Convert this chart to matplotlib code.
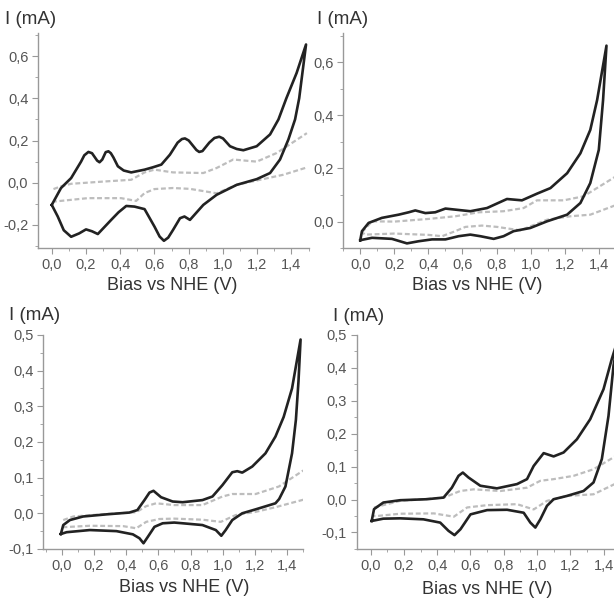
import numpy as np
import matplotlib
matplotlib.use("Agg")
import matplotlib.pyplot as plt
from matplotlib.ticker import MultipleLocator, FuncFormatter

plt.rcParams['font.family'] = ['Liberation Sans', 'DejaVu Sans']

# ---- data: solid loop = forward scan then reverse scan (V, mA) ----
# panel 1 (top left)
p1_solid_v = [0.0, 0.054, 0.113, 0.171, 0.19, 0.214, 0.235, 0.265, 0.279, 0.295, 0.315, 0.331, 0.345, 0.36,
              0.386, 0.42, 0.464, 0.542, 0.59, 0.64, 0.69, 0.735, 0.76, 0.778, 0.80, 0.82, 0.845, 0.861,
              0.88, 0.92, 0.95, 0.978, 1.0, 1.041, 1.08, 1.119, 1.197, 1.275, 1.324, 1.37, 1.43, 1.485,
              1.445, 1.421, 1.382, 1.333, 1.275, 1.197, 1.08, 0.963, 0.885, 0.807, 0.775, 0.749,
              0.708, 0.68, 0.655, 0.63, 0.6, 0.542, 0.483, 0.435, 0.39, 0.347, 0.269, 0.235, 0.2, 0.16,
              0.113, 0.07, 0.035, 0.0]
p1_solid_i = [-0.105, -0.025, 0.022, 0.10, 0.13, 0.146, 0.14, 0.105, 0.097, 0.11, 0.145, 0.149, 0.14, 0.12,
              0.078, 0.058, 0.049, 0.062, 0.073, 0.086, 0.133, 0.19, 0.207, 0.21, 0.2, 0.18, 0.155, 0.146,
              0.15, 0.19, 0.212, 0.218, 0.21, 0.173, 0.16, 0.154, 0.173, 0.229, 0.3, 0.4, 0.52, 0.655,
              0.4, 0.3, 0.205, 0.11, 0.046, 0.017, -0.01, -0.057, -0.105, -0.176, -0.16, -0.168,
              -0.224, -0.26, -0.275, -0.255, -0.208, -0.125, -0.113, -0.11, -0.14, -0.176, -0.243, -0.23,
              -0.221, -0.24, -0.256, -0.225, -0.16, -0.105]
p1_dash_fwd_v = [0.01, 0.054, 0.113, 0.308, 0.464, 0.542, 0.6, 0.708, 0.885, 0.963, 1.06, 1.197, 1.314, 1.49]
p1_dash_fwd_i = [-0.03, -0.017, -0.005, 0.006, 0.014, 0.049, 0.062, 0.049, 0.046, 0.07, 0.11, 0.10, 0.141, 0.235]
p1_dash_rev_v = [1.48, 1.353, 1.216, 1.08, 0.963, 0.807, 0.708, 0.6, 0.542, 0.493, 0.405, 0.21, 0.016]
p1_dash_rev_i = [0.07, 0.038, 0.014, -0.01, -0.05, -0.029, -0.025, -0.03, -0.049, -0.086, -0.073, -0.073, -0.089]

# panel 2 (top right)
p2_solid_v = [0.0, 0.01, 0.049, 0.127, 0.225, 0.284, 0.323, 0.382, 0.44, 0.5, 0.558, 0.646, 0.744,
              0.861, 0.949, 1.037, 1.116, 1.214, 1.292, 1.35, 1.39, 1.445,
              1.425, 1.4, 1.35, 1.292, 1.214, 1.096, 0.998, 0.9, 0.841, 0.783, 0.705, 0.646,
              0.577, 0.5, 0.421, 0.342, 0.274, 0.186, 0.069, 0.0]
p2_solid_i = [-0.07, -0.036, -0.005, 0.014, 0.026, 0.035, 0.042, 0.032, 0.035, 0.049, 0.045, 0.039, 0.051,
              0.085, 0.08, 0.105, 0.126, 0.182, 0.257, 0.345, 0.457, 0.662,
              0.457, 0.27, 0.145, 0.07, 0.026, 0.001, -0.024, -0.036, -0.055, -0.065, -0.055, -0.049,
              -0.055, -0.067, -0.067, -0.074, -0.082, -0.065, -0.061, -0.07]
p2_dash_fwd_v = [0.01, 0.069, 0.2, 0.4, 0.558, 0.695, 0.841, 0.959, 1.037, 1.194, 1.31, 1.5]
p2_dash_fwd_i = [-0.04, 0.001, 0.0, 0.01, 0.02, 0.035, 0.039, 0.051, 0.08, 0.08, 0.095, 0.17]
p2_dash_rev_v = [1.5, 1.35, 1.233, 1.096, 0.94, 0.803, 0.714, 0.617, 0.558, 0.48, 0.4, 0.2, 0.029, 0.01]
p2_dash_rev_i = [0.062, 0.026, 0.02, 0.007, -0.033, -0.02, -0.015, -0.02, -0.036, -0.055, -0.05, -0.045, -0.049, -0.04]

# panel 3 (bottom left)
p3_solid_v = [-0.005, 0.01, 0.051, 0.133, 0.278, 0.42, 0.47, 0.514, 0.545, 0.57, 0.617, 0.689, 0.751,
              0.874, 0.936, 0.998, 1.059, 1.09, 1.121, 1.183, 1.265, 1.327, 1.378, 1.43, 1.483,
              1.47, 1.454, 1.43, 1.389, 1.35, 1.327, 1.204, 1.121, 1.059, 1.018, 0.991, 0.957,
              0.874, 0.751, 0.699, 0.627, 0.576, 0.535, 0.508, 0.483, 0.442, 0.34, 0.175, 0.031, -0.005]
p3_solid_i = [-0.058, -0.033, -0.019, -0.009, -0.003, 0.002, 0.009, 0.037, 0.058, 0.063, 0.045, 0.033, 0.031,
              0.037, 0.047, 0.079, 0.115, 0.118, 0.114, 0.131, 0.168, 0.215, 0.27, 0.35, 0.487,
              0.37, 0.262, 0.168, 0.075, 0.04, 0.028, 0.011, 0.0, -0.019, -0.047, -0.063, -0.047,
              -0.033, -0.028, -0.026, -0.028, -0.038, -0.066, -0.084, -0.07, -0.059, -0.05, -0.047, -0.053, -0.058]
p3_dash_fwd_v = [0.01, 0.072, 0.278, 0.463, 0.525, 0.586, 0.699, 0.874, 0.998, 1.059, 1.204, 1.348, 1.5]
p3_dash_fwd_i = [-0.019, -0.009, -0.002, 0.003, 0.02, 0.028, 0.023, 0.023, 0.047, 0.054, 0.054, 0.075, 0.12]
p3_dash_rev_v = [1.5, 1.327, 1.204, 1.08, 0.988, 0.874, 0.699, 0.607, 0.525, 0.463, 0.381, 0.175, 0.01]
p3_dash_rev_i = [0.038, 0.017, 0.004, -0.005, -0.024, -0.018, -0.015, -0.016, -0.024, -0.042, -0.036, -0.035, -0.039]

# panel 4 (bottom right)
p4_solid_v = [0.006, 0.02, 0.076, 0.177, 0.337, 0.438, 0.488, 0.528, 0.554, 0.588, 0.659, 0.759, 0.88,
              0.94, 0.98, 1.04, 1.1, 1.16, 1.24, 1.32, 1.4, 1.45, 1.49,
              1.46, 1.43, 1.39, 1.34, 1.28, 1.18, 1.1, 1.06, 1.02, 0.99, 0.96, 0.92, 0.82, 0.70,
              0.6, 0.54, 0.504, 0.468, 0.418, 0.317, 0.177, 0.076, 0.006]
p4_solid_i = [-0.065, -0.029, -0.009, -0.002, 0.001, 0.006, 0.036, 0.072, 0.082, 0.067, 0.042, 0.034, 0.047,
              0.062, 0.102, 0.141, 0.131, 0.143, 0.183, 0.244, 0.335, 0.427, 0.492,
              0.406, 0.254, 0.123, 0.052, 0.026, 0.011, 0.001, -0.019, -0.06, -0.085, -0.07, -0.04, -0.031, -0.032,
              -0.045, -0.09, -0.108, -0.095, -0.07, -0.06, -0.057, -0.058, -0.065]
p4_dash_fwd_v = [0.02, 0.177, 0.44, 0.538, 0.618, 0.78, 0.94, 1.02, 1.1, 1.22, 1.34, 1.5]
p4_dash_fwd_i = [-0.024, -0.004, 0.006, 0.026, 0.031, 0.026, 0.036, 0.057, 0.062, 0.072, 0.092, 0.14]
p4_dash_rev_v = [1.5, 1.34, 1.18, 1.06, 0.98, 0.88, 0.7, 0.58, 0.5, 0.38, 0.177, 0.036, 0.02]
p4_dash_rev_i = [0.055, 0.016, 0.011, -0.004, -0.03, -0.014, -0.017, -0.024, -0.052, -0.042, -0.043, -0.05, -0.05]

# axes rects (figure fraction), limits and tick steps
panels = [
    ([0.062, 0.585, 0.4406, 0.360], (-0.08, 1.5), (-0.31, 0.71), 0.2, -0.2, 0.6,
     (p1_solid_v, p1_solid_i), [(p1_dash_fwd_v, p1_dash_fwd_i), (p1_dash_rev_v, p1_dash_rev_i)],
     (0.008, 0.967), (0.281, 0.523)),
    ([0.559, 0.585, 0.444, 0.360], (-0.1, 1.5), (-0.1, 0.71), 0.2, 0.0, 0.6,
     (p2_solid_v, p2_solid_i), [(p2_dash_fwd_v, p2_dash_fwd_i), (p2_dash_rev_v, p2_dash_rev_i)],
     (0.516, 0.967), (0.777, 0.523)),
    ([0.0705, 0.082, 0.4235, 0.358], (-0.114, 1.5), (-0.1, 0.5), 0.1, -0.1, 0.5,
     (p3_solid_v, p3_solid_i), [(p3_dash_fwd_v, p3_dash_fwd_i), (p3_dash_rev_v, p3_dash_rev_i)],
     (0.015, 0.473), (0.300, 0.018)),
    ([0.581, 0.082, 0.429, 0.358], (-0.084, 1.5), (-0.15, 0.5), 0.1, -0.1, 0.5,
     (p4_solid_v, p4_solid_i), [(p4_dash_fwd_v, p4_dash_fwd_i), (p4_dash_rev_v, p4_dash_rev_i)],
     (0.543, 0.470), (0.793, 0.015)),
]

comma = FuncFormatter(lambda v, p: ("%.1f" % v).replace(".", ","))

fig = plt.figure(figsize=(6.14, 5.98), dpi=100)
for rect, xl, yl, ystep, ylo, yhi, solid, dashes, ylab_pos, xlab_pos in panels:
    ax = fig.add_axes(rect)
    for dv, di in dashes:
        ax.plot(dv, di, color='#bdbdbd', lw=1.6, ls=(0, (2.2, 1.2)))
    ax.plot(solid[0], solid[1], color='#222222', lw=1.9, solid_joinstyle='round')
    ax.set_xlim(*xl)
    ax.set_ylim(*yl)
    ax.set_xticks(np.arange(0, 1.41, 0.2))
    ax.xaxis.set_minor_locator(MultipleLocator(0.1))
    ax.set_yticks(np.arange(ylo, yhi + 0.001, ystep))
    ax.yaxis.set_minor_locator(MultipleLocator(ystep / 2))
    ax.xaxis.set_major_formatter(comma)
    ax.yaxis.set_major_formatter(comma)
    for s in ['top', 'right']:
        ax.spines[s].set_visible(False)
    for s in ['left', 'bottom']:
        ax.spines[s].set_color('#999999')
        ax.spines[s].set_linewidth(1.0)
    ax.tick_params(which='major', direction='out', length=4, width=0.8, color='#999999',
                   labelsize=10.5, labelcolor='#555555', pad=3)
    ax.tick_params(which='minor', direction='out', length=2, width=0.6, color='#999999')
    fig.text(ylab_pos[0], ylab_pos[1], "I (mA)", fontsize=13.5, color='#333333', va='center', ha='left')
    fig.text(xlab_pos[0], xlab_pos[1], "Bias vs NHE (V)", fontsize=13, color='#333333', va='center', ha='center')

fig.savefig("out.png", dpi=100, facecolor='white')
